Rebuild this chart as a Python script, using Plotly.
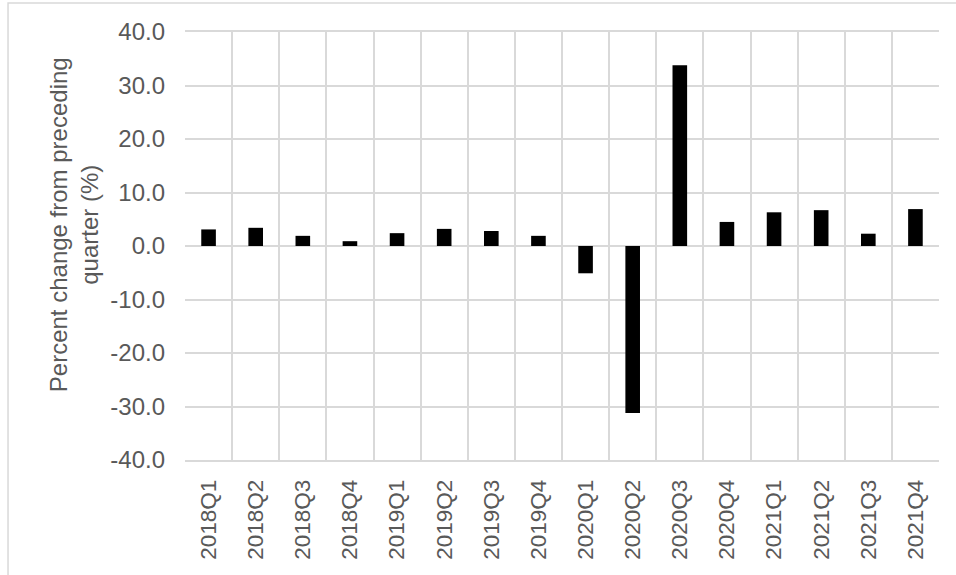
import plotly.graph_objects as go

# Quarterly real GDP, percent change from preceding quarter (annualized)
quarters = ["2018Q1", "2018Q2", "2018Q3", "2018Q4",
            "2019Q1", "2019Q2", "2019Q3", "2019Q4",
            "2020Q1", "2020Q2", "2020Q3", "2020Q4",
            "2021Q1", "2021Q2", "2021Q3", "2021Q4"]
pct_change = [3.1, 3.4, 1.9, 0.9,
              2.4, 3.2, 2.8, 1.9,
              -5.1, -31.2, 33.8, 4.5,
              6.3, 6.7, 2.3, 6.9]

y_ticks = [-40, -30, -20, -10, 0, 10, 20, 30, 40]
y_title = "Percent change from preceding<br>quarter (%)"

TEXT = "#595959"
GRID = "#d9d9d9"
FONT = "Liberation Sans, Arial, sans-serif"
FS_Y = 24
FS_X = 22.5

fig = go.Figure(
    go.Bar(
        x=quarters,
        y=pct_change,
        marker=dict(color="#000000", line=dict(width=0)),
        hoverinfo="x+y",
    )
)

fig.update_layout(
    width=956,
    height=575,
    margin=dict(l=185, r=17, t=32, b=115),
    paper_bgcolor="white",
    plot_bgcolor="white",
    bargap=0.69,
    showlegend=False,
    font=dict(family=FONT, size=FS_Y, color=TEXT),
    shapes=[
        # light frame around the chart area
        dict(type="rect", xref="paper", yref="paper",
             x0=-0.2347, x1=1.2, y0=-0.5, y1=1.0678,
             line=dict(color=GRID, width=1.5), layer="below"),
    ],
    annotations=[
        dict(text=y_title, textangle=-90, xref="paper", yref="paper",
             x=-0.147, y=0.549, xanchor="center", yanchor="middle",
             showarrow=False, align="center",
             font=dict(family=FONT, size=FS_Y, color=TEXT)),
    ],
)

fig.update_xaxes(
    type="category",
    tickson="boundaries",
    showgrid=True,
    gridcolor=GRID,
    gridwidth=1.5,
    tickangle=-90,
    ticks="",
    showline=True,
    linecolor=GRID,
    linewidth=1.5,
    mirror=True,
    ticklabelstandoff=9,
    tickfont=dict(size=FS_X, color=TEXT),
)

fig.update_yaxes(
    range=[-40, 40],
    tickvals=y_ticks,
    ticktext=[f"{v:.1f}" for v in y_ticks],
    showgrid=True,
    gridcolor=GRID,
    gridwidth=1.5,
    zeroline=True,
    zerolinecolor=GRID,
    zerolinewidth=1.5,
    showline=False,
    ticks="",
    ticklabelstandoff=19,
    tickfont=dict(size=FS_Y, color=TEXT),
)

fig.write_html("out.html")
